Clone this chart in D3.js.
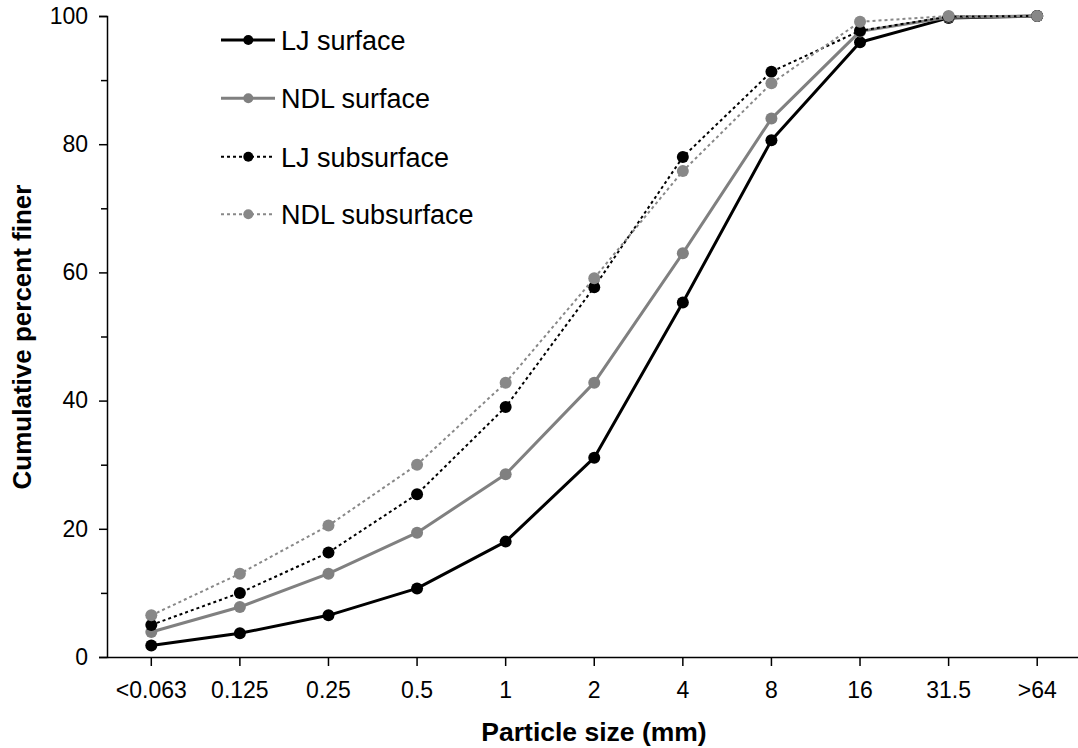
<!DOCTYPE html>
<html><head><meta charset="utf-8">
<script src="https://cdn.jsdelivr.net/npm/d3@7"></script>
<style>body{margin:0;background:#fff}svg{display:block;font-family:"Liberation Sans",Arial,sans-serif}</style>
</head><body><svg id="c" width="1078" height="748"></svg>
<script>
const categories = ["<0.063","0.125","0.25","0.5","1","2","4","8","16","31.5",">64"];
const ljSurface     = [1.8, 3.7, 6.5, 10.7, 18.0, 31.1, 55.3, 80.6, 95.9, 99.7, 100];
const ndlSurface    = [3.9, 7.8, 13.0, 19.4, 28.5, 42.8, 63.0, 84.0, 97.6, 99.8, 100];
const ljSubsurface  = [5.0, 10.0, 16.3, 25.4, 39.0, 57.7, 78.0, 91.3, 97.7, 99.9, 100];
const ndlSubsurface = [6.5, 13.0, 20.5, 30.0, 42.8, 59.1, 75.8, 89.5, 99.1, 100, 100];
const seriesNames = ["LJ surface","NDL surface","LJ subsurface","NDL subsurface"];
const yTicks = [0,20,40,60,80,100];
const yMinorTicks = [10,30,50,70,90];

const series = [
  {name: seriesNames[0], values: ljSurface, color: "#000", width: 3, dash: null},
  {name: seriesNames[1], values: ndlSurface, color: "#808080", width: 3, dash: null},
  {name: seriesNames[2], values: ljSubsurface, color: "#000", width: 2, dash: "3,3"},
  {name: seriesNames[3], values: ndlSubsurface, color: "#888", width: 2, dash: "3,3"}
];

const svg = d3.select("#c");
const mLeft = 107, mRight = 1081.5, mTop = 16, mBottom = 657;
const x = d3.scaleBand().domain(categories).range([mLeft, mRight]).paddingInner(0).paddingOuter(0);
const xc = c => x(c) + x.bandwidth()/2;
const y = d3.scaleLinear().domain([0,100]).range([mBottom, mTop]);

// Y axis
const yAxis = d3.axisLeft(y).tickValues(yTicks).tickSize(8).tickPadding(11);
const gy = svg.append("g").attr("transform", `translate(${mLeft},0)`).call(yAxis);
gy.select(".domain").attr("stroke","#000").attr("stroke-width",1.5);
gy.selectAll(".tick line").attr("stroke","#000").attr("stroke-width",1.5);
gy.selectAll(".tick text").attr("font-size","23px").attr("fill","#000").attr("font-family","Liberation Sans, Arial, sans-serif");
const gym = svg.append("g").attr("transform", `translate(${mLeft},0)`)
  .call(d3.axisLeft(y).tickValues(yMinorTicks).tickSize(6).tickFormat(""));
gym.select(".domain").remove();
gym.selectAll(".tick line").attr("stroke","#000").attr("stroke-width",1.5);

// X axis
const xAxis = d3.axisBottom(x).tickSize(9).tickPadding(16).tickSizeOuter(0);
const gx = svg.append("g").attr("transform", `translate(0,${mBottom})`).call(xAxis);
gx.select(".domain").attr("stroke","#000").attr("stroke-width",1.5);
gx.selectAll(".tick line").attr("stroke","#000").attr("stroke-width",1.5);
gx.selectAll(".tick text").attr("font-size","23px").attr("fill","#000").attr("font-family","Liberation Sans, Arial, sans-serif");

// Axis titles
svg.append("text").attr("x", 594).attr("y", 741).attr("text-anchor","middle")
  .attr("font-size","26.5px").attr("font-weight","bold").text("Particle size (mm)");
svg.append("text").attr("transform", `translate(31,337) rotate(-90)`).attr("text-anchor","middle")
  .attr("font-size","26px").attr("font-weight","bold").text("Cumulative percent finer");

// Lines & markers
const line = d3.line().x((d,i) => xc(categories[i])).y(d => y(d));
series.forEach(s => {
  svg.append("path").datum(s.values).attr("d", line).attr("fill","none")
    .attr("stroke", s.color).attr("stroke-width", s.width)
    .attr("stroke-dasharray", s.dash).attr("stroke-linejoin","round");
  svg.append("g").selectAll("circle").data(s.values).join("circle")
    .attr("cx", (d,i) => xc(categories[i])).attr("cy", d => y(d)).attr("r", 6)
    .attr("fill", s.color);
});

// Legend
const legY = [40, 98.3, 156.7, 214.3];
series.forEach((s,i) => {
  const g = svg.append("g").attr("transform", `translate(0,${legY[i]})`);
  g.append("line").attr("x1",221).attr("x2",275).attr("y1",0).attr("y2",0)
    .attr("stroke", s.color).attr("stroke-width", s.width).attr("stroke-dasharray", s.dash);
  g.append("circle").attr("cx",248.3).attr("cy",0).attr("r",5).attr("fill", s.color);
  g.append("text").attr("x",281).attr("y",10).attr("font-size","27px").attr("fill","#000").text(s.name);
});
</script></body></html>
